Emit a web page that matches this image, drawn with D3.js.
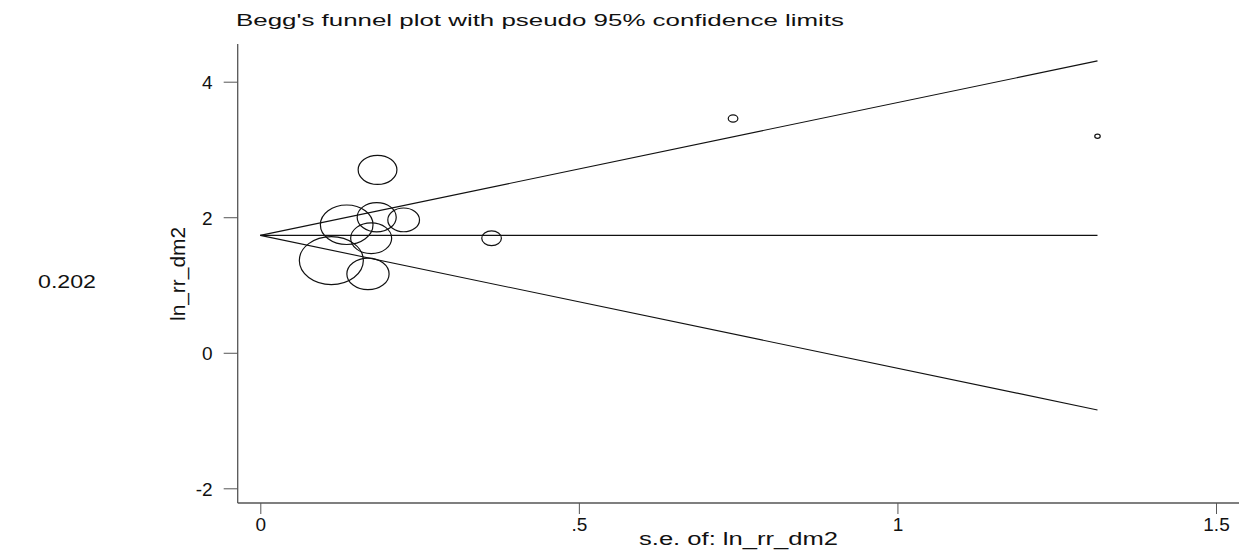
<!DOCTYPE html>
<html>
<head>
<meta charset="utf-8">
<script src="https://cdn.jsdelivr.net/npm/d3@7"></script>
<style>
  body { margin: 0; background: #fff; }
  text { font-family: "Liberation Sans", Arial, sans-serif; fill: #111; }
</style>
</head>
<body>
<div id="chart"></div>
<script>
// study estimates: standard error and log relative risk
const seValues = [0.1115, 0.1356, 0.169, 0.174, 0.1827, 0.184, 0.225, 0.363, 0.742, 1.314];
const lnRR = [1.36, 1.889, 1.164, 1.69, 2.0, 2.699, 1.961, 1.69, 3.456, 3.195];
const pooled = 1.732;
const seMax = 1.314;
const xTicks = [0, 0.5, 1, 1.5];
const xTickLabels = ["0", ".5", "1", "1.5"];
const yTicks = [-2, 0, 2, 4];
const yTickLabels = ["-2", "0", "2", "4"];

const width = 1243, height = 557;
const svg = d3.select("#chart").append("svg")
    .attr("width", width)
    .attr("height", height);

const x = d3.scaleLinear().domain([0, 1.5]).range([260.3, 1216]);
const y = d3.scaleLinear().domain([-2, 4]).range([488.3, 81.7]);
const plotLeft = 237.7, plotRight = 1239, plotTop = 44, plotBottom = 503;

// marker size proportional to 1/se (area ~ weight), squashed like the original
const r = d3.scaleLinear().domain([0, 1 / 0.1115]).range([0, 32]);

// funnel lines
const limits = [
    [[0, pooled], [seMax, pooled + 1.96 * seMax]],
    [[0, pooled], [seMax, pooled]],
    [[0, pooled], [seMax, pooled - 1.96 * seMax]]
];
const line = d3.line().x(d => x(d[0])).y(d => y(d[1]));
svg.selectAll(".limit")
    .data(limits)
    .enter()
    .append("path")
    .attr("class", "limit")
    .attr("d", line)
    .attr("fill", "none")
    .attr("stroke", "#111")
    .attr("stroke-width", 1.1);

// studies
svg.selectAll(".study")
    .data(seValues.map((s, i) => ({ se: s, v: lnRR[i] })))
    .enter()
    .append("ellipse")
    .attr("class", "study")
    .attr("cx", d => x(d.se))
    .attr("cy", d => y(d.v))
    .attr("rx", d => r(1 / d.se))
    .attr("ry", d => r(1 / d.se) * 0.75)
    .attr("fill", "none")
    .attr("stroke", "#111")
    .attr("stroke-width", 1.2);

// axes
const xAxis = svg.append("g")
    .attr("transform", `translate(0,${plotBottom})`)
    .call(d3.axisBottom(x).tickValues(xTicks).tickFormat((d, i) => xTickLabels[i]).tickSize(11).tickSizeOuter(0));
xAxis.select(".domain").attr("d", `M${plotLeft},0H${plotRight}`);

const yAxis = svg.append("g")
    .attr("transform", `translate(${plotLeft},0)`)
    .call(d3.axisLeft(y).tickValues(yTicks).tickFormat((d, i) => yTickLabels[i]).tickSize(14).tickSizeOuter(0));
yAxis.select(".domain").attr("d", `M0,${plotTop}V${plotBottom}`);

svg.selectAll(".domain").attr("stroke", "#555").attr("stroke-width", 1.3);
svg.selectAll(".tick line").attr("stroke", "#555").attr("stroke-width", 1);
svg.selectAll(".tick text")
    .attr("font-family", "Liberation Sans, Arial, sans-serif")
    .attr("font-size", 19)
    .attr("fill", "#111");
xAxis.selectAll(".tick text").attr("dy", "0.95em").attr("y", 10);
yAxis.selectAll(".tick text").attr("x", -25).attr("dy", "0.36em");

// titles
svg.append("text")
    .attr("x", 236)
    .attr("y", 26)
    .attr("font-size", 17)
    .attr("textLength", 608)
    .attr("lengthAdjust", "spacingAndGlyphs")
    .text("Begg's funnel plot with pseudo 95% confidence limits");

svg.append("text")
    .attr("x", 639)
    .attr("y", 545)
    .attr("font-size", 18)
    .attr("textLength", 199)
    .attr("lengthAdjust", "spacingAndGlyphs")
    .text("s.e. of: ln_rr_dm2");

svg.append("text")
    .attr("transform", "translate(185,321) rotate(-90)")
    .attr("font-size", 20)
    .attr("textLength", 94)
    .attr("lengthAdjust", "spacingAndGlyphs")
    .text("ln_rr_dm2");

svg.append("text")
    .attr("x", 38)
    .attr("y", 288)
    .attr("font-family", "Carlito, 'Open Sans', sans-serif")
    .attr("font-size", 18)
    .attr("textLength", 58)
    .attr("lengthAdjust", "spacingAndGlyphs")
    .text("0.202");
</script>
</body>
</html>
